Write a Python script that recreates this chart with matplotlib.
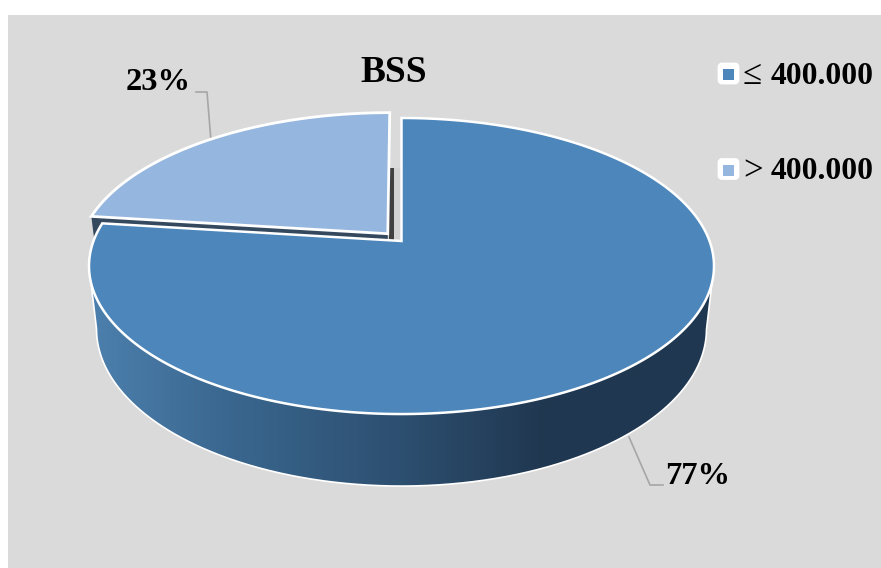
import numpy as np
import matplotlib
matplotlib.use("Agg")
import matplotlib.pyplot as plt
from matplotlib.colors import LinearSegmentedColormap
from matplotlib.patches import Polygon, Rectangle, FancyBboxPatch

title = "BSS"
signs = ["≤", ">"]
amounts = ["400.000", "400.000"]
shares = [77, 23]
colors = ["#4c86bb", "#95b6de"]

# projection of the tilted pie, in pixels of the 881x568 picture
CX, Y0 = 401.5, 241
A, B, K = 308, 143.8, -0.169
EXPLODE = 0.068
CY, CY_LOW = 266, 329
SCALE_X, SCALE_Y = 0.976, 1.061


def project(theta, du=0, dv=0, r=1.0):
    # theta in degrees, clockwise from 12 o'clock
    t = np.radians(theta)
    u = r * np.sin(t) + du
    v = r * np.cos(t) + dv
    w = 1 - K * v
    return CX + A * u / w, Y0 - B * v / w


def lower(x, y):
    # same outline on the bottom plane of the pie
    return CX + (x - CX) * SCALE_X, CY_LOW + (y - CY) * SCALE_Y


fig = plt.figure(figsize=(8.81, 5.68), dpi=100, facecolor="white")
ax = fig.add_axes([0, 0, 1, 1])
ax.axis("off")
ax.add_patch(Rectangle((8, 15), 873, 553, fc="#dadada", ec="none", zorder=0))

split = 360 * shares[0] / sum(shares)
mid = (split + 360) / 2
du = EXPLODE * np.sin(np.radians(mid))
dv = EXPLODE * np.cos(np.radians(mid))

# small slice: cut face, then top
ths = np.linspace(split, 360, 120)
lx, ly = project(ths, du, dv)
ax_, ay_ = project(0, du, dv, r=0)
tip = (lx[0], ly[0])
tip_low = lower(*tip)
apex_low = lower(ax_, ay_)
ax.add_patch(Polygon([tip, (ax_, ay_), apex_low, tip_low], fc="#35495e", ec="none", zorder=1))
ax.add_patch(Rectangle((ax_ + 1, 168), 5, 72, fc="#404040", ec="none", zorder=1))
ax.add_patch(Rectangle((ax_ + 6, 168), 7, 72, fc="#d2d2d2", ec="none", zorder=1))
ax.add_patch(Polygon(np.r_[np.c_[lx, ly], [[ax_, ay_]]], fc=colors[1], ec="white", lw=2,
                     joinstyle="miter", zorder=2))

# wall of the big slice, only between the left and right extremes of the rim
wall = np.linspace(0, split, 1200)
tx, ty = project(wall)
wall = wall[np.argmax(tx):np.argmin(tx) + 1]
tx, ty = project(wall)
bx, by = lower(tx, ty)
wall_poly = Polygon(np.r_[np.c_[tx, ty], np.c_[bx, by][::-1]], fc="none", ec="none",
                    transform=ax.transData)
ax.add_patch(wall_poly)
cmap = LinearSegmentedColormap.from_list(
    "wall", [(0.0, "#4d80ae"), (0.22, "#3a678f"), (0.5, "#2d4f70"),
             (0.73, "#203750"), (1.0, "#1f3850")])
im = ax.imshow(np.linspace(0, 1, 256)[None, :], extent=(89, 714, 500, 200), cmap=cmap,
               aspect="auto", zorder=3, interpolation="bilinear")
im.set_clip_path(wall_poly)
ax.plot(np.r_[tx[0], bx, tx[-1]], np.r_[ty[0], by, ty[-1]], color="white", lw=1.2, zorder=4)

# top of the big slice
ths = np.linspace(0, split, 400)
mx, my = project(ths)
apex = project(0, r=0)
ax.add_patch(Polygon(np.r_[np.c_[mx, my], [apex]], fc=colors[0], ec="white", lw=1.8,
                     joinstyle="miter", zorder=5))

# leader lines and labels
lead = "#a6a6a6"
ax.plot([211, 207, 196], [141, 92, 92], color=lead, lw=1.2, zorder=1.5)
ax.plot([629, 650, 663], [437, 485, 485], color=lead, lw=1.2, zorder=6)
serif = "Liberation Serif"
ax.text(158.5, 83, f"{shares[1]}%", family=serif, weight="bold", fontsize=23.4,
        ha="center", va="center", zorder=7)
ax.text(698, 476, f"{shares[0]}%", family=serif, weight="bold", fontsize=23.4,
        ha="center", va="center", zorder=7)
ax.text(393.5, 72, title, family=serif, weight="bold", fontsize=27,
        ha="center", va="center", zorder=7)

# legend
for i, (sign, amount, col) in enumerate(zip(signs, amounts, colors)):
    y = 74 + i * 95.5
    ax.add_patch(FancyBboxPatch((719, y - 10), 19, 19, boxstyle="round,pad=0,rounding_size=3",
                                fc="white", ec="white", lw=2, zorder=7))
    ax.add_patch(Rectangle((723, y - 5), 11, 11, fc=col, ec="none", zorder=8))
    ax.text(743, y + 2, sign, family=serif, fontsize=25, ha="left", va="center", zorder=7)
    ax.text(771, y + 2, amount, family=serif, weight="bold", fontsize=22.8,
            ha="left", va="center", zorder=7)

ax.set_xlim(0, 881)
ax.set_ylim(568, 0)
fig.savefig("out.png", dpi=100)
